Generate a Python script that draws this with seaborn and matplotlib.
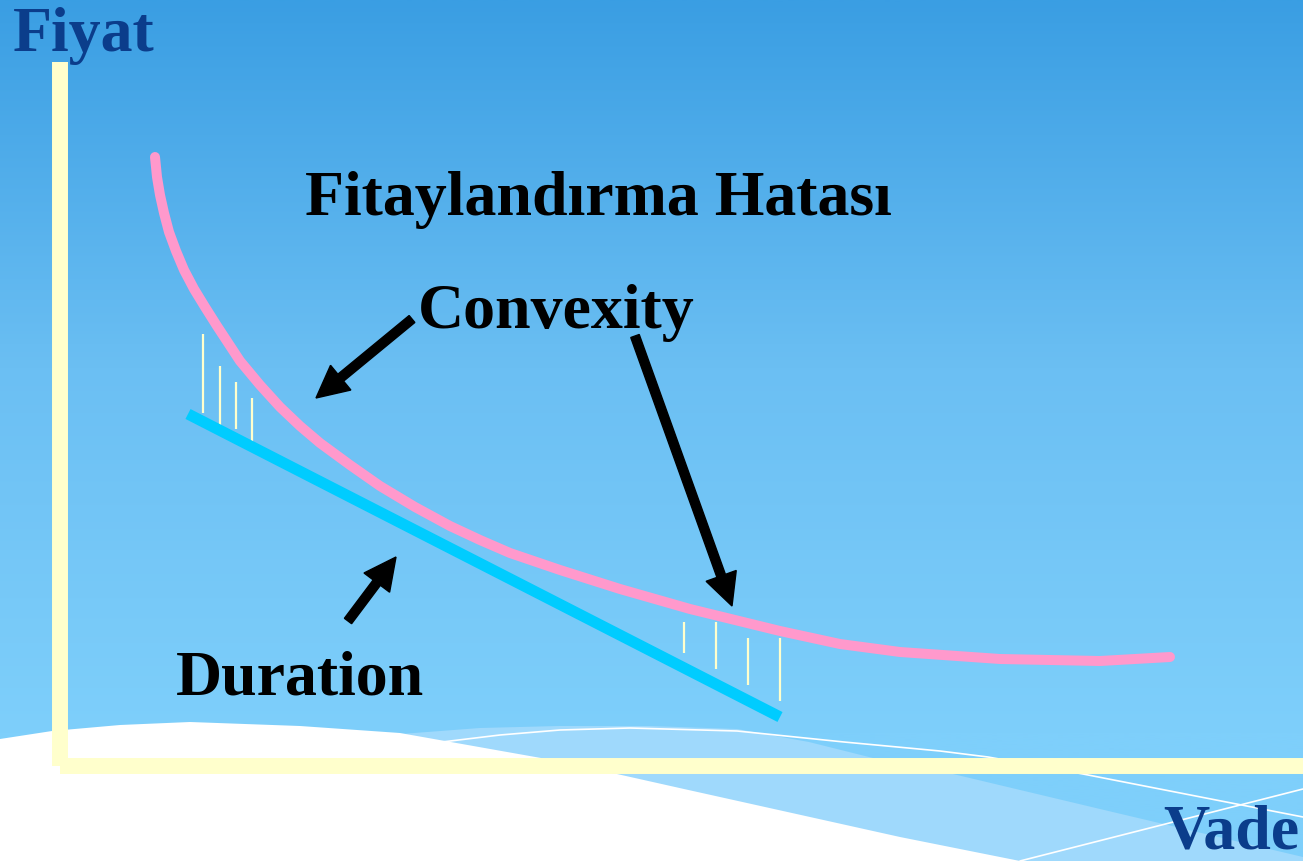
import matplotlib
matplotlib.use('Agg')
import numpy as np
import matplotlib.pyplot as plt
import seaborn as sns
from matplotlib.patches import Polygon, FancyArrow
from matplotlib.colors import LinearSegmentedColormap

sns.set_theme(style="white")
plt.rcParams['font.family'] = ['Liberation Serif', 'DejaVu Serif']

# Price curve (convex), in pixel coordinates
price_x = [155, 157, 160, 164, 169, 176, 184, 194, 205, 217, 240, 260, 280, 300,
           320, 350, 380, 415, 450, 480, 510, 560, 620, 690, 780, 840, 900, 1000,
           1100, 1170]
price_y = [158, 178, 196, 214, 233, 252, 271, 290, 308, 327, 362, 386, 408, 427,
           444, 466, 487, 508, 527, 541, 554, 571, 590, 610, 632, 645, 653, 660,
           662, 658]

# Duration tangent line
dur_x = [188, 780]
dur_y = [415, 718]

# Small error markers between the two lines
err_x = [203, 220, 236, 252, 684, 716, 748, 780]
err_top = [335, 367, 383, 399, 623, 623, 639, 639]
err_bot = [414, 430, 430, 446, 654, 670, 686, 702]

# Arrows (tail -> tip)
arrow_tail = [(412, 320), (635, 337), (348, 622)]
arrow_tip = [(316, 399), (732, 607), (396, 558)]

# Labels
labels = ['Fiyat', 'Vade', 'Fitaylandırma Hatası', 'Convexity', 'Duration']
label_pos = [(13, 51), (1163, 849), (305, 215), (418, 328), (176, 695)]
label_col = ['#0b3d8b', '#0b3d8b', 'black', 'black', 'black']

# Decorative wave at the bottom of the slide
white_edge = [(0, 740), (52, 732), (120, 726), (190, 723), (300, 727), (400, 734),
              (541, 759), (617, 775), (684, 790), (900, 838), (1020, 862)]
band_edge = [(401, 735), (480, 729), (559, 727), (650, 727), (737, 730), (809, 743),
             (873, 759), (953, 775), (1100, 810), (1303, 858)]
thin_a = [(442, 743), (500, 736), (560, 731), (630, 729), (737, 732), (844, 743),
          (940, 752), (988, 758), (1083, 775), (1303, 818)]
thin_b = [(1020, 862), (1303, 790)]

W, H = 1303, 862
fig = plt.figure(figsize=(W / 100, H / 100), dpi=100)
ax = fig.add_axes([0, 0, 1, 1])

# background gradient
cmap = LinearSegmentedColormap.from_list('bg', ['#3a9ee3', '#6bbff3', '#7ecffb'])
grad = np.clip(np.linspace(0, 1.17, 400), 0, 1)[:, None]
ax.imshow(grad, cmap=cmap, aspect='auto', extent=[0, W, H, 0], zorder=0)

ax.add_patch(Polygon(band_edge + [(1303, 862), (400, 862)], closed=True,
                     facecolor='#9fd9fc', edgecolor='none', zorder=1))
ax.add_patch(Polygon(white_edge + [(0, 862)], closed=True,
                     facecolor='white', edgecolor='none', zorder=2))
for pts in (thin_a, thin_b):
    xs, ys = zip(*pts)
    ax.plot(xs, ys, color='white', lw=1.2, zorder=3)

# axes of the diagram
ax.plot([60, 60], [63, 767], color='#ffffcc', lw=11.5, solid_capstyle='butt', zorder=4)
ax.plot([60, 1303], [767, 767], color='#ffffcc', lw=11.5, solid_capstyle='butt', zorder=4)

# error markers
ax.vlines(err_x, err_top, err_bot, color='#ffffcc', lw=1.6, zorder=5)

sns.lineplot(x=dur_x, y=dur_y, sort=False, estimator=None, color='#00ccff',
             linewidth=8, solid_capstyle='butt', ax=ax, zorder=6)
sns.lineplot(x=price_x, y=price_y, sort=False, estimator=None, color='#ff99cc',
             linewidth=7.2, solid_capstyle='round', solid_joinstyle='round',
             ax=ax, zorder=7)

for (x0, y0), (x1, y1) in zip(arrow_tail, arrow_tip):
    ax.add_patch(FancyArrow(x0, y0, x1 - x0, y1 - y0, width=9, head_width=32,
                            head_length=32, length_includes_head=True,
                            color='black', zorder=8))

for txt, (x, y), c in zip(labels, label_pos, label_col):
    ax.text(x, y, txt, fontsize=46, fontweight='bold', color=c,
            ha='left', va='baseline', zorder=9)

ax.set_xlim(0, W)
ax.set_ylim(H, 0)
ax.axis('off')

fig.savefig('out.png', dpi=100)
